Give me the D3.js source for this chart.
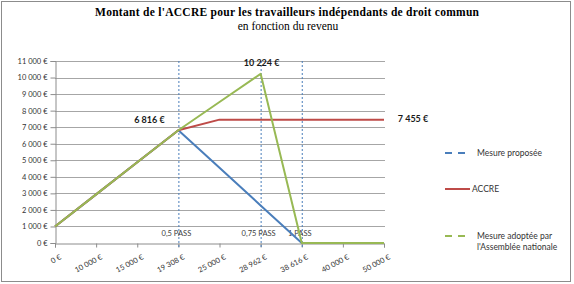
<!DOCTYPE html>
<html><head><meta charset="utf-8">
<script src="https://cdn.jsdelivr.net/npm/d3@7"></script>
<style>body{margin:0;background:#fff}svg{display:block}</style>
</head><body>
<script>
const categories = ["0 €","10 000 €","15 000 €","19 308 €","25 000 €","28 962 €","38 616 €","40 000 €","50 000 €"];
const mesureProposee = [1000, 2939, 4877, 6816, 4544, 2272, 0, 0, 0];
const accre = [1000, 2939, 4877, 6816, 7455, 7455, 7455, 7455, 7455];
const mesureAdoptee = [1000, 2939, 4877, 6816, 8520, 10224, 0, 0, 0];
const yTicks = [0,1000,2000,3000,4000,5000,6000,7000,8000,9000,10000,11000];
const passLines = [{cat:"19 308 €", label:"0,5 PASS"},{cat:"28 962 €", label:"0,75 PASS"},{cat:"38 616 €", label:"1 PASS"}];
const dataLabels = [{cat:"19 308 €", v:6816, text:"6 816 €", dx:-29, dy:-7},{cat:"28 962 €", v:10224, text:"10 224 €", dx:1, dy:-8},{cat:"50 000 €", v:7455, text:"7 455 €", dx:29, dy:2}];
const seriesNames = ["Mesure proposée","ACCRE","Mesure adoptée par|l'Assemblée nationale"];
const colors = ["#4A7EBB","#BE4B48","#98B954"];

const W=574,H=284;
const svg=d3.select("body").append("svg").attr("width",W).attr("height",H);
svg.append("rect").attr("x",1.5).attr("y",1.5).attr("width",569).attr("height",280).attr("fill","#fff").attr("stroke","#8c8c8c");

const x=d3.scalePoint().domain(categories).range([55,384]);
const y=d3.scaleLinear().domain([0,11000]).range([243,61]);
const fmt=v=>d3.format(",")(v).replace(/,/g," ")+" €";

// gridlines
svg.append("g").selectAll("line").data(yTicks.slice(1)).join("line")
 .attr("x1",55).attr("x2",385).attr("y1",d=>Math.round(y(d))+0.5).attr("y2",d=>Math.round(y(d))+0.5)
 .attr("stroke","#a6a6a6").attr("stroke-width",1);

// y axis
const yAxis=svg.append("g").attr("transform","translate(55.5,0)")
 .call(d3.axisLeft(y).tickValues(yTicks).tickFormat(fmt).tickSize(5).tickPadding(3));
yAxis.select(".domain").attr("stroke","#8c8c8c");
yAxis.selectAll(".tick line").attr("stroke","#8c8c8c");
yAxis.selectAll("text").attr("font-family","Lato, 'Open Sans', sans-serif").attr("font-size",7.5).attr("fill","#333");

// x axis
const xAxis=svg.append("g").attr("transform","translate(0,243.5)")
 .call(d3.axisBottom(x).tickSize(4).tickPadding(3));
xAxis.select(".domain").attr("stroke","#8c8c8c");
xAxis.selectAll(".tick line").attr("stroke","#8c8c8c");
xAxis.selectAll("text").attr("font-family","Lato, 'Open Sans', sans-serif").attr("font-size",7.5).attr("fill","#333")
 .attr("text-anchor","end").attr("dy",0).attr("transform","translate(3,9) rotate(-28)");

// PASS lines
passLines.forEach(p=>{
  svg.append("line").attr("x1",x(p.cat)+0.5).attr("x2",x(p.cat)+0.5).attr("y1",61).attr("y2",248)
   .attr("stroke","#4A7EBB").attr("stroke-width",1).attr("stroke-dasharray","2,2");
  svg.append("text").attr("x",x(p.cat)-2).attr("y",236).attr("text-anchor","middle")
   .attr("font-family","Lato, 'Open Sans', sans-serif").attr("font-size",7.5).attr("fill","#404040").text(p.label);
});

// series
const line=d3.line().x((d,i)=>x(categories[i])).y(d=>y(d));
[mesureProposee,accre,mesureAdoptee].forEach((s,i)=>{
  svg.append("path").datum(s).attr("d",line).attr("fill","none").attr("stroke",colors[i]).attr("stroke-width",2).attr("stroke-linejoin","round");
});

// data labels
dataLabels.forEach(l=>{
  svg.append("text").attr("x",x(l.cat)+l.dx).attr("y",y(l.v)+l.dy).attr("text-anchor","middle")
   .attr("font-family","Lato, 'Open Sans', sans-serif").attr("font-size",9).attr("font-weight","bold").attr("fill","#1a1a1a").text(l.text);
});

// title
svg.append("text").attr("x",287).attr("y",16).attr("text-anchor","middle")
 .attr("font-family","'Liberation Serif', serif").attr("font-size",11.5).attr("font-weight","bold").attr("fill","#000")
 .attr("textLength",384).attr("lengthAdjust","spacing")
 .text("Montant de l'ACCRE pour les travailleurs indépendants de droit commun");
svg.append("text").attr("x",288).attr("y",29.5).attr("text-anchor","middle")
 .attr("font-family","'Liberation Serif', serif").attr("font-size",11.5).attr("fill","#000")
 .text("en fonction du revenu");

// legend
const legY=[153,189,236];
seriesNames.forEach((n,i)=>{
  const g=svg.append("g");
  g.append("line").attr("x1",445).attr("x2",470).attr("y1",legY[i]).attr("y2",legY[i]).attr("stroke",colors[i]).attr("stroke-width",2)
   .attr("stroke-dasharray", i===1?null:"7,6");
  const t=g.append("text").attr("x",i===1?472:477).attr("y",legY[i]+3).attr("font-family","Lato, 'Open Sans', sans-serif").attr("font-size",8.5).attr("fill","#333");
  n.split("|").forEach((p,j)=>t.append("tspan").attr("x",i===1?472:477).attr("dy",j?10.5:0).text(p));
});
</script>
</body></html>
